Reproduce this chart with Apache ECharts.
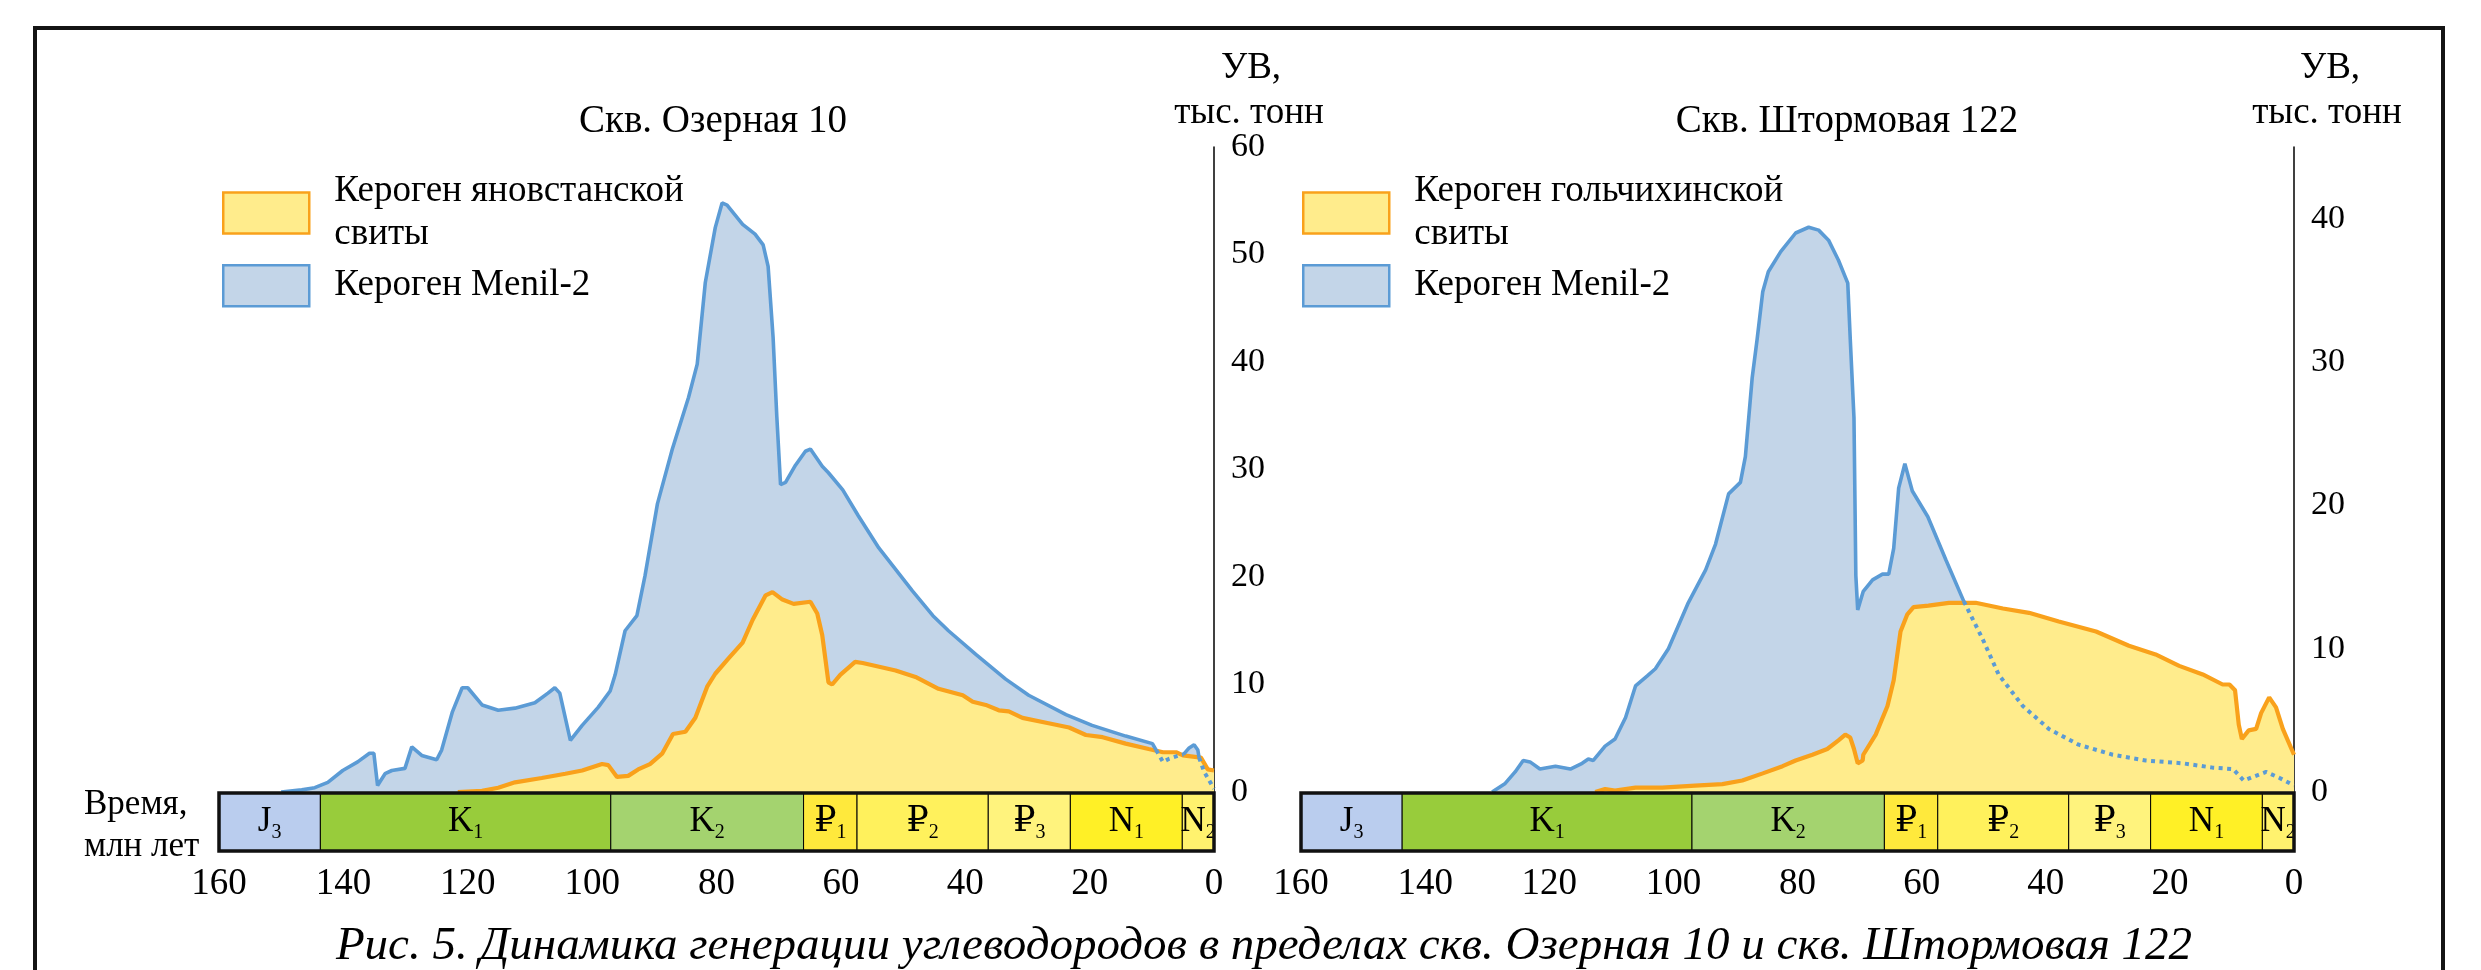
<!DOCTYPE html>
<html><head><meta charset="utf-8">
<script src="https://cdn.jsdelivr.net/npm/echarts@6/dist/echarts.min.js"></script>
<style>html,body{margin:0;padding:0;background:#fff}#c{width:2481px;height:970px}</style>
</head><body><div id="c"></div>
<script>
// ---------- DATA ----------
const ageTickStep = 20;            // x ticks 160 ... 0 (млн лет)
const ageMax = 160;
const ozerMax = 60, shtormMax = 45, uvTickStep = 10;

const titleOzer = 'Скв. Озерная 10';
const titleShtorm = 'Скв. Штормовая 122';
const nameOzerKer = 'Кероген яновстанской\nсвиты';
const nameShtormKer = 'Кероген гольчихинской\nсвиты';
const nameMenil = 'Кероген Menil-2';
const axisNameTop = 'УВ,';
const axisNameBottom = 'тыс. тонн';
const timeName1 = 'Время,';
const timeName2 = 'млн лет';
const caption = 'Рис. 5. Динамика генерации углеводородов в пределах скв. Озерная 10 и скв. Штормовая 122';

// stratigraphic scale
const strataSymbol = ['J', 'K', 'K', '₽', '₽', '₽', 'N', 'N'];
const strataIndex  = ['3', '1', '2', '1', '2', '3', '1', '2'];
const strataFrom   = [160, 143.7, 97, 66, 57.4, 36.3, 23.1, 5.1];
const strataTo     = [143.7, 97, 66, 57.4, 36.3, 23.1, 5.1, 0];

// Скв. Озерная 10 : [age, thousand t]
const ozerMenil = [[150,0],[146.7,0.2],[144.6,0.4],[142.5,0.9],[140.1,2.0],[137.7,2.8],[135.8,3.6],[135.1,3.6],[134.5,0.6],[133.3,1.7],[132.2,2.0],[130.1,2.2],[129.0,4.2],[127.4,3.4],[125.0,3.0],[124.2,3.9],[122.5,7.4],[120.9,9.7],[120.0,9.7],[117.7,8.1],[115.1,7.6],[112.4,7.8],[109.2,8.3],[107.1,9.2],[106.0,9.7],[105.2,9.2],[103.5,4.8],[101.6,6.2],[99.0,7.9],[97.1,9.4],[96.3,10.9],[94.7,15.0],[92.8,16.4],[91.5,20.1],[89.5,26.8],[87.1,31.9],[84.5,36.7],[83.1,39.8],[81.8,47.4],[80.2,52.5],[79.1,54.8],[78.3,54.6],[75.8,52.8],[73.8,51.9],[72.5,50.9],[71.7,48.9],[70.9,42.3],[70.3,34.9],[69.7,28.6],[68.9,28.8],[67.3,30.4],[65.7,31.7],[64.9,31.9],[63.0,30.3],[62.0,29.7],[59.7,28.1],[57.2,25.7],[53.9,22.7],[48.5,18.7],[45.2,16.4],[42.7,15.0],[38.3,12.8],[33.5,10.5],[29.8,9.0],[23.8,7.2],[19.6,6.2],[14.2,5.2],[9.9,4.5],[9.3,3.9],[8.2,2.8],[7.2,3.1],[5.6,3.4],[4.9,3.5],[4.0,4.1],[3.2,4.4],[2.6,3.9],[2.4,3.2],[1.6,1.9],[0.8,1.1],[0,0.3]];
const ozerMenilHidden = [[9.3, 4.9], [2.4, 0]];   // age ranges where Menil-2 is drawn dotted
const ozerKer = [[121.6,0],[117.7,0.1],[115.1,0.4],[112.4,0.9],[108.1,1.3],[104.3,1.7],[101.6,2.0],[98.4,2.6],[97.4,2.5],[96.0,1.4],[94.2,1.5],[92.6,2.1],[90.7,2.6],[88.7,3.6],[87.0,5.4],[85.0,5.6],[83.4,6.9],[81.5,9.8],[80.2,11.0],[78.1,12.4],[75.8,13.9],[74.2,16.0],[72.1,18.3],[71.0,18.6],[69.4,17.9],[67.6,17.5],[64.9,17.7],[63.8,16.6],[63.0,14.6],[62.0,10.2],[61.4,10.0],[60.1,10.9],[57.7,12.1],[56.5,12.0],[51.2,11.3],[48.0,10.7],[44.3,9.6],[40.4,9.0],[38.8,8.4],[36.7,8.1],[34.6,7.6],[33.0,7.5],[30.8,6.9],[26.6,6.4],[23.3,6.0],[20.6,5.3],[17.9,5.1],[14.2,4.5],[10.5,4.0],[8.2,3.7],[6.1,3.7],[5.0,3.4],[2.1,3.2],[1.0,2.1],[0,2.0]];

// Скв. Штормовая 122
const shtormMenil = [[129.2,0],[127.1,0.6],[125.5,1.4],[124.2,2.2],[123.1,2.1],[121.5,1.6],[119.0,1.8],[116.6,1.6],[114.7,2.0],[113.7,2.3],[112.9,2.2],[111.0,3.2],[109.4,3.7],[107.7,5.2],[106.1,7.4],[104.2,8.1],[102.9,8.6],[100.8,10.0],[97.6,13.2],[94.8,15.5],[93.2,17.3],[91.1,20.8],[89.2,21.6],[88.4,23.4],[87.3,28.9],[86.5,31.6],[85.6,34.9],[84.7,36.3],[82.7,37.7],[80.3,39.0],[78.2,39.4],[76.6,39.2],[75.0,38.5],[73.4,37.1],[71.9,35.5],[71.5,31.6],[70.9,26.1],[70.6,15.1],[70.3,12.7],[69.4,14.0],[67.9,14.8],[66.3,15.2],[65.3,15.2],[64.5,17.0],[63.7,21.2],[62.7,22.9],[61.5,21.0],[59.0,19.2],[56.1,16.2],[53.2,13.3],[50.2,10.7],[47.6,8.2],[43.7,6.0],[39.5,4.4],[34.7,3.3],[29.2,2.6],[23.9,2.2],[17.9,2.0],[13.1,1.7],[9.8,1.6],[8.1,0.8],[4.5,1.4],[2.4,1.0],[0,0.45]];
const shtormMenilHidden = [[53.2, 0]];
const shtormKer = [[112.6,0],[111.0,0.2],[109.4,0.1],[106.1,0.3],[101.8,0.3],[96.5,0.45],[92.1,0.55],[88.9,0.8],[85.6,1.3],[82.4,1.8],[80.3,2.2],[77.6,2.6],[75.2,3.0],[73.4,3.6],[72.3,4.0],[71.5,3.8],[70.9,3.0],[70.3,2.0],[69.5,2.2],[69.4,2.6],[67.4,4.0],[65.5,6.0],[64.5,7.8],[63.4,11.2],[62.3,12.4],[61.3,12.9],[58.9,13.0],[55.6,13.2],[51.3,13.2],[46.9,12.8],[42.7,12.5],[37.9,11.9],[31.9,11.2],[26.6,10.2],[22.3,9.6],[18.5,8.8],[14.7,8.2],[11.5,7.5],[10.4,7.5],[9.5,7.1],[8.9,4.7],[8.4,3.7],[7.3,4.3],[6.1,4.4],[5.3,5.5],[4.0,6.6],[2.9,5.9],[1.8,4.4],[0,2.6]];

// ---------- STYLE ----------
const FONT = "'Liberation Serif','Times New Roman','DejaVu Serif',serif";
const strataColors = ['#BACDEE', '#98CC3B', '#A4D36F', '#FFE93C', '#FFF15C', '#FFF37D', '#FFF026', '#FFF26E'];
const BLUE_FILL = '#C3D5E8', BLUE_LINE = '#5B9BD5', YEL_FILL = '#FFEC8C', ORANGE = '#F9A11B';

const chart = echarts.init(document.getElementById('c'), null, {renderer: 'canvas'});

function inRanges(t, ranges, strict) {
  return ranges.some(r => strict ? (t < r[0] && t > r[1]) : (t <= r[0] && t >= r[1]));
}

const panels = [
  {grid: {left: 219, top: 147, width: 995, height: 645}, bar: {left: 219, top: 793, width: 995, height: 58},
   max: ozerMax, menil: ozerMenil, hidden: ozerMenilHidden, ker: ozerKer, kerName: nameOzerKer},
  {grid: {left: 1301, top: 147, width: 993, height: 645}, bar: {left: 1301, top: 793, width: 993, height: 58},
   max: shtormMax, menil: shtormMenil, hidden: shtormMenilHidden, ker: shtormKer, kerName: nameShtormKer}
];

const grid = [], xAxis = [], yAxis = [], series = [];
panels.forEach((p, i) => {
  grid.push(Object.assign({outerBoundsMode: 'none'}, p.grid));
  xAxis.push({type: 'value', gridIndex: i, min: 0, max: ageMax, inverse: true, show: false});
  yAxis.push({type: 'value', gridIndex: i, min: 0, max: p.max, interval: uvTickStep, position: 'right',
    axisLine: {show: true, lineStyle: {color: '#000', width: 1.5}}, axisTick: {show: false}, splitLine: {show: false},
    axisLabel: {margin: 17, fontSize: 34, fontFamily: FONT, color: '#000',
      formatter: v => (v % uvTickStep === 0 ? String(v) : '')}});
});
panels.forEach((p, i) => {
  grid.push(Object.assign({outerBoundsMode: 'none'}, p.bar));
  xAxis.push({type: 'value', gridIndex: i + 2, min: 0, max: ageMax, interval: ageTickStep, inverse: true,
    axisLine: {show: false}, axisTick: {show: false}, splitLine: {show: false},
    axisLabel: {margin: 15, fontSize: 37, lineHeight: 37, fontFamily: FONT, color: '#000'}});
  yAxis.push({type: 'value', gridIndex: i + 2, min: 0, max: 1, show: false});
});

panels.forEach((p, i) => {
  const solid = p.menil.map(([t, v]) => [t, inRanges(t, p.hidden, true) ? null : v]);
  const dotted = p.menil.map(([t, v]) => [t, inRanges(t, p.hidden, false) ? v : null]);
  series.push({name: nameMenil, type: 'line', xAxisIndex: i, yAxisIndex: i, data: p.menil, symbol: 'none',
    lineStyle: {opacity: 0}, areaStyle: {color: BLUE_FILL, opacity: 1}, z: 1, silent: true});
  series.push({name: p.kerName, type: 'line', xAxisIndex: i, yAxisIndex: i, data: p.ker, symbol: 'none',
    lineStyle: {color: ORANGE, width: 4.2}, itemStyle: {color: ORANGE}, areaStyle: {color: YEL_FILL, opacity: 1}, z: 2, silent: true});
  series.push({name: 'menil-line-' + i, type: 'line', xAxisIndex: i, yAxisIndex: i, data: solid, symbol: 'none',
    connectNulls: false, lineStyle: {color: BLUE_LINE, width: 3.6}, z: 3, silent: true});
  series.push({name: 'menil-dot-' + i, type: 'line', xAxisIndex: i, yAxisIndex: i, data: dotted, symbol: 'none',
    connectNulls: false, lineStyle: {color: BLUE_LINE, width: 4, type: [4, 4.5], cap: 'butt'}, z: 3, silent: true});
  // stratigraphic bar
  series.push({name: 'strata-' + i, type: 'custom', xAxisIndex: i + 2, yAxisIndex: i + 2, clip: true, silent: true, z: 4,
    data: strataFrom.map((f, k) => [f, strataTo[k], k]),
    renderItem: (params, api) => {
      const k = api.value(2);
      const a = api.coord([api.value(0), 1]);
      const b = api.coord([api.value(1), 0]);
      return {type: 'group', children: [
        {type: 'rect', shape: {x: a[0], y: a[1], width: b[0] - a[0], height: b[1] - a[1]},
          style: {fill: strataColors[k], stroke: '#000', lineWidth: 1}},
        {type: 'text', x: (a[0] + b[0]) / 2, y: (a[1] + b[1]) / 2,
          style: {text: '{m|' + strataSymbol[k] + '}{s|' + strataIndex[k] + '}',
            align: 'center', verticalAlign: 'middle', fill: '#000',
            rich: {m: {fontSize: 35, lineHeight: 36, fontFamily: FONT, verticalAlign: 'top', fill: '#000'},
                   s: {fontSize: 20, lineHeight: 20, fontFamily: FONT, verticalAlign: 'top', padding: [19, 0, 0, 0], fill: '#000'}}}}
      ]};
    }});
  series.push({name: 'strata-frame-' + i, type: 'custom', xAxisIndex: i + 2, yAxisIndex: i + 2, silent: true, z: 5,
    data: [[ageMax, 0]],
    renderItem: (params, api) => {
      const a = api.coord([api.value(0), 1]);
      const b = api.coord([api.value(1), 0]);
      return {type: 'rect', shape: {x: a[0], y: a[1], width: b[0] - a[0], height: b[1] - a[1]},
        style: {fill: 'none', stroke: '#111', lineWidth: 3.5}};
    }});
});

function legendFor(left, top, name, fill, border, pad) {
  return {show: true, left: left, top: top, orient: 'vertical', padding: 0, itemGap: 0, selectedMode: false,
    icon: 'rect', itemWidth: 86, itemHeight: 41, data: [name],
    itemStyle: {color: fill, borderColor: border, borderWidth: 2.5},
    textStyle: {fontSize: 37, lineHeight: 43, fontFamily: FONT, color: '#000', padding: pad}};
}
const legend = [
  legendFor(222, 162, nameOzerKer, YEL_FILL, ORANGE, [16, 0, 0, 20]),
  legendFor(222, 264, nameMenil, BLUE_FILL, BLUE_LINE, [0, 0, 0, 20]),
  legendFor(1302, 162, nameShtormKer, YEL_FILL, ORANGE, [16, 0, 0, 20]),
  legendFor(1302, 264, nameMenil, BLUE_FILL, BLUE_LINE, [0, 0, 0, 20])
];

function txt(x, y, text, size, align, italic) {
  return {type: 'text', x: x, y: y, silent: true, z: 10,
    style: {text: text, fontSize: size, fontFamily: FONT, fontStyle: italic ? 'italic' : 'normal', fill: '#000',
      align: align, verticalAlign: 'middle', textAlign: align, textVerticalAlign: 'middle'}};
}

const graphic = [
  {type: 'polyline', silent: true, z: 10, shape: {points: [[35, 1000], [35, 28], [2443, 28], [2443, 1000]]},
    style: {stroke: '#141414', lineWidth: 4, fill: null}},
  txt(713, 122, titleOzer, 39, 'center'),
  txt(1847, 122, titleShtorm, 39, 'center'),
  txt(1251, 68, axisNameTop, 37, 'center'),
  txt(1249, 113, axisNameBottom, 37, 'center'),
  txt(2330, 68, axisNameTop, 37, 'center'),
  txt(2327, 113, axisNameBottom, 37, 'center'),
  txt(84, 805, timeName1, 35, 'left'),
  txt(84, 847, timeName2, 35, 'left'),
  txt(1264, 947, caption, 47, 'center', true)
];

chart.setOption({
  animation: false,
  backgroundColor: '#fff',
  grid: grid, xAxis: xAxis, yAxis: yAxis, series: series, legend: legend, graphic: graphic
});
</script></body></html>
